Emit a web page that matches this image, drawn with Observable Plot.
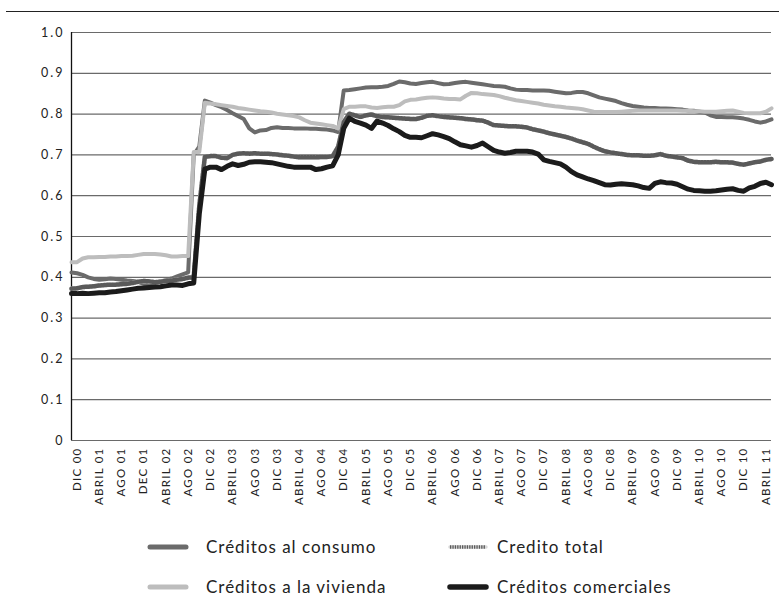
<!DOCTYPE html>
<html><head><meta charset="utf-8">
<script src="https://cdn.jsdelivr.net/npm/d3@7"></script>
<script src="https://cdn.jsdelivr.net/npm/@observablehq/plot@0.6"></script>
<style>
body{margin:0;background:#fff;}
#wrap{position:relative;width:779px;height:608px;overflow:hidden;font-family:Lato,sans-serif;background:#fff;}
#rule{position:absolute;left:6px;right:0;top:11px;height:0;border-top:1.5px solid #222;}
#chart{position:absolute;left:0;top:0;}
#legend{position:absolute;left:0;top:520px;width:779px;height:88px;}
.yax text{letter-spacing:2px;}
.xax text{letter-spacing:1.25px;}
</style></head><body>
<div id="wrap"><div id="chart"></div><div id="rule"></div><div id="legend"></div></div>
<script>
// Monthly values (first point one month before DIC 00, last ~JUN 11)
const consumo = [
0.412,0.410,0.406,0.400,0.396,0.394,0.395,0.397,0.396,0.394,0.392,0.391,0.389,0.384,0.379,0.386,0.390,0.393,0.397,0.402,0.407,0.412,0.700,0.720,0.833,
0.828,0.822,0.817,0.810,0.802,0.795,0.788,0.765,0.755,0.760,0.761,0.766,0.768,0.766,0.766,0.765,0.765,0.765,0.764,0.764,0.763,0.762,0.760,0.756,
0.858,0.859,0.861,0.863,0.865,0.866,0.866,0.867,0.869,0.874,
0.880,0.878,0.875,0.874,0.876,0.878,0.879,0.876,0.873,0.874,
0.876,0.878,0.879,0.877,0.875,0.873,0.871,0.869,0.868,0.867,
0.863,0.860,0.859,0.859,0.858,0.858,0.858,0.857,0.855,0.853,
0.851,0.852,0.854,0.854,0.851,0.846,0.841,0.838,0.835,0.832,
0.827,0.823,0.820,0.818,0.816,0.815,0.815,0.814,0.814,0.813,
0.812,0.811,0.809,0.808,0.806,0.804,0.797,0.793,0.793,0.792,
0.792,0.791,0.789,0.786,0.782,0.779,0.782,0.787];
const vivienda = [
0.437,0.437,0.446,0.449,0.449,0.450,0.450,0.451,0.451,0.452,0.452,0.453,0.455,0.457,0.457,0.457,0.456,0.454,0.451,0.451,0.452,0.452,0.707,0.707,0.828,
0.826,0.824,0.822,0.820,0.818,0.815,0.813,0.811,0.809,0.807,0.806,0.804,0.801,0.799,0.797,0.795,0.792,0.785,0.779,0.777,0.775,0.773,0.771,0.765,
0.812,0.818,0.818,0.819,0.819,0.816,0.815,0.817,0.818,0.818,
0.822,0.831,0.835,0.836,0.838,0.840,0.841,0.840,0.838,0.837,
0.837,0.836,0.845,0.852,0.851,0.849,0.848,0.847,0.844,0.840,
0.837,0.834,0.832,0.830,0.828,0.826,0.823,0.821,0.819,0.818,
0.816,0.815,0.814,0.812,0.809,0.806,0.805,0.805,0.805,0.805,
0.806,0.807,0.808,0.809,0.809,0.809,0.809,0.809,0.809,0.809,
0.809,0.808,0.808,0.807,0.807,0.806,0.806,0.806,0.807,0.808,
0.809,0.806,0.803,0.802,0.802,0.802,0.806,0.814];
const total = [
0.372,0.373,0.376,0.377,0.378,0.380,0.381,0.382,0.382,0.383,0.384,0.386,0.389,0.391,0.390,0.388,0.389,0.391,0.392,0.394,0.396,0.399,0.400,0.575,0.695,
0.697,0.697,0.693,0.692,0.700,0.703,0.704,0.703,0.704,0.703,0.703,0.702,0.701,0.699,0.698,0.696,0.694,0.694,0.694,0.694,0.695,0.695,0.697,0.720,
0.780,0.801,0.797,0.793,0.797,0.799,0.795,0.793,0.792,0.791,
0.790,0.789,0.788,0.788,0.791,0.796,0.797,0.795,0.793,0.792,
0.791,0.790,0.788,0.787,0.785,0.784,0.779,0.773,0.772,0.771,
0.770,0.770,0.769,0.767,0.763,0.760,0.757,0.753,0.750,0.747,
0.744,0.740,0.735,0.731,0.727,0.720,0.714,0.709,0.706,0.704,
0.702,0.700,0.699,0.699,0.698,0.698,0.699,0.702,0.698,0.696,
0.694,0.692,0.686,0.683,0.682,0.682,0.682,0.683,0.682,0.682,
0.681,0.678,0.676,0.679,0.682,0.684,0.688,0.690];
const comerciales = [
0.360,0.360,0.361,0.360,0.361,0.362,0.362,0.364,0.365,0.367,0.369,0.371,0.373,0.374,0.375,0.376,0.377,0.379,0.381,0.381,0.380,0.384,0.386,0.555,0.665,
0.670,0.670,0.664,0.672,0.678,0.674,0.677,0.682,0.683,0.683,0.682,0.681,0.678,0.675,0.672,0.670,0.670,0.670,0.670,0.664,0.666,0.670,0.673,0.700,
0.765,0.790,0.782,0.778,0.773,0.765,0.783,0.778,0.772,0.764,
0.757,0.748,0.743,0.743,0.742,0.747,0.752,0.749,0.745,0.740,
0.732,0.725,0.722,0.719,0.723,0.729,0.720,0.711,0.707,0.704,
0.706,0.709,0.709,0.709,0.707,0.702,0.688,0.684,0.681,0.678,
0.670,0.659,0.651,0.646,0.641,0.637,0.632,0.627,0.626,0.628,
0.629,0.628,0.627,0.624,0.620,0.618,0.630,0.634,0.632,0.631,
0.628,0.622,0.616,0.613,0.612,0.611,0.611,0.612,0.614,0.616,
0.617,0.613,0.611,0.619,0.623,0.630,0.633,0.627];

const tickLabels = ["DIC 00","ABRIL 01","AGO 01","DEC 01","ABRIL 02","AGO 02","DIC 02","ABRIL 03","AGO 03","DIC 03","ABRIL 04","AGO 04","DIC 04","ABRIL 05","AGO 05","DIC 05","ABRIL 06","AGO 06","DIC 06","ABRIL 07","AGO 07","DIC 07","ABRIL 08","AGO 08","DIC 08","ABRIL 09","AGO 09","DIC 09","ABRIL 10","AGO 10","DIC 10","ABRIL 11"];
const firstLabelMonth = 1;   // DIC 00 is the 2nd monthly observation
const labelStep = 4;         // one label every four months
const yTicks = [0,0.1,0.2,0.3,0.4,0.5,0.6,0.7,0.8,0.9,1.0];
const seriesNames = ["Créditos al consumo","Credito total","Créditos a la vivienda","Créditos comerciales"];

const N = consumo.length;
const tickPos = tickLabels.map((_, k) => firstLabelMonth + labelStep * k);

const chart = Plot.plot({
  width: 779, height: 520,
  marginTop: 32, marginLeft: 71, marginRight: 8, marginBottom: 80,
  style: {fontFamily: "Lato, sans-serif", fontSize: "13px", color: "#222", background: "transparent"},
  x: {type: "linear", domain: [0, N - 1]},
  y: {domain: [0, 1]},
  marks: [
    Plot.ruleY(yTicks, {stroke: "#6a6a6a", strokeWidth: 1.2}),
    Plot.axisY({ticks: yTicks, tickSize: 0, tickPadding: 7, fontSize: 12.5, className: "yax",
      tickFormat: d => d === 0 ? "0" : d.toFixed(1)}),
    Plot.axisX({ticks: tickPos, tickSize: 0, tickPadding: 7, tickRotate: -90, fontSize: 11.5, className: "xax",
      tickFormat: d => tickLabels[Math.round((d - firstLabelMonth) / labelStep)]}),
    Plot.ruleX([0], {stroke: "#111", strokeWidth: 1.3}),
    Plot.lineY(consumo, {stroke: "#6b6b6b", strokeWidth: 4, strokeLinejoin: "round"}),
    Plot.lineY(vivienda, {stroke: "#bdbdbd", strokeWidth: 4, strokeLinejoin: "round"}),
    Plot.lineY(total, {stroke: "#d6d6d6", strokeWidth: 4.5, strokeLinejoin: "round"}),
    Plot.lineY(total, {stroke: "#5a5a5a", strokeWidth: 4.5, strokeDasharray: "1.6 1.3"}),
    Plot.lineY(comerciales, {stroke: "#1b1b1b", strokeWidth: 5, strokeLinejoin: "round"})
  ]
});
document.getElementById("chart").appendChild(chart);

// Legend
const leg = d3.select("#legend").append("svg").attr("width", 779).attr("height", 88)
  .style("font-family", "Lato, sans-serif");
const items = [
  {name: seriesNames[0], x: 148, y: 27, kind: "consumo"},
  {name: seriesNames[1], x: 448, y: 27, kind: "total"},
  {name: seriesNames[2], x: 148, y: 67, kind: "vivienda"},
  {name: seriesNames[3], x: 448, y: 67, kind: "comerciales"}
];
items.forEach(it => {
  const g = leg.append("g");
  const line = (stroke, w, dash) => g.append("line").attr("x1", it.x + 2).attr("x2", it.x + 38)
    .attr("y1", it.y).attr("y2", it.y).attr("stroke", stroke).attr("stroke-width", w)
    .attr("stroke-linecap", dash ? "butt" : "round").attr("stroke-dasharray", dash || null);
  if (it.kind === "consumo") line("#6b6b6b", 5);
  if (it.kind === "vivienda") line("#bdbdbd", 5);
  if (it.kind === "comerciales") line("#1b1b1b", 5.5);
  if (it.kind === "total") { line("#d6d6d6", 3.5); line("#5a5a5a", 3.5, "1.3 1.1"); }
  g.append("text").attr("x", it.kind === "total" || it.kind === "comerciales" ? it.x + 49 : it.x + 58)
    .attr("y", it.y + 6).attr("font-size", 17).attr("letter-spacing", "1px").attr("fill", "#222").text(it.name);
});
</script>
</body></html>
